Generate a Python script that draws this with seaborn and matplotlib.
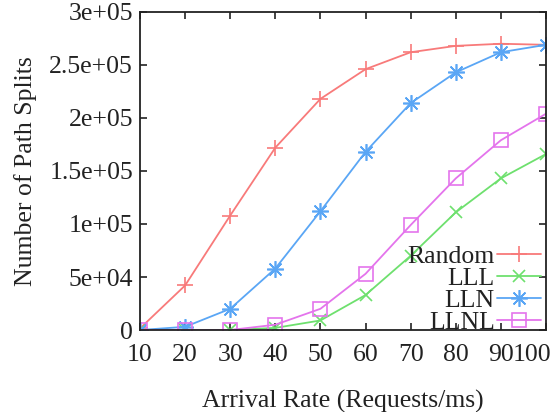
import matplotlib
matplotlib.use("Agg")
import matplotlib.pyplot as plt
import seaborn as sns
import pandas as pd
from matplotlib.transforms import ScaledTranslation

# ---- data ----
rates = [10, 20, 30, 40, 50, 60, 70, 80, 90, 100]
random_vals = [1500, 42000, 108000, 172000, 218000, 246000, 262000, 268000, 270000, 269000]
lll_vals = [0, 0, 0, 2000, 9000, 33000, 70000, 111000, 143000, 166000]
lln_vals = [0, 3000, 20000, 58000, 112000, 168000, 214000, 243000, 262000, 269000]
llnl_vals = [0, 0, 0, 5000, 20000, 53000, 99000, 143000, 179000, 204000]

series_names = ["Random", "LLL", "LLN", "LLNL"]
series_vals = [random_vals, lll_vals, lln_vals, llnl_vals]

x_ticks = [10, 20, 30, 40, 50, 60, 70, 80, 90, 100]
y_ticks = [0, 50000, 100000, 150000, 200000, 250000, 300000]
y_tick_labels = ["0", "5e+04", "1e+05", "1.5e+05", "2e+05", "2.5e+05", "3e+05"]

x_label = "Arrival Rate (Requests/ms)"
y_label = "Number of Path Splits"

# ---- style ----
sns.set_style("ticks")
plt.rcParams["font.family"] = ["Liberation Serif", "DejaVu Serif"]

FS = 18.5
colors = ["#f87a7a", "#6ee06e", "#5aa6f5", "#e474ec"]
markers = ["+", "x", (8, 2, 0), "s"]
msizes = [11, 9, 12, 10]

fig = plt.figure(figsize=(5.5, 4.12), dpi=100)
ax = fig.add_axes([0.2545, 0.199, 0.7382, 0.772])

for name, vals, c, m, ms in zip(series_names, series_vals, colors, markers, msizes):
    df = pd.DataFrame({"rate": rates, "value": vals})
    sns.lineplot(data=df, x="rate", y="value", ax=ax, color=c, marker=m,
                 markersize=ms, markeredgecolor=c,
                 markerfacecolor="none" if m == "s" else c,
                 markeredgewidth=1.2, linewidth=1.3, label=name)

ax.set_xlim(10, 100)
ax.set_ylim(0, 300000)
ax.set_xticks(x_ticks)
ax.set_xticklabels([str(t) for t in x_ticks])
ax.set_yticks(y_ticks)
ax.set_yticklabels(y_tick_labels)
ax.tick_params(direction="in", length=5, width=1.2, labelsize=FS,
               top=True, right=True, colors="#222222")
ax.tick_params(axis="x", pad=10)
ax.tick_params(axis="y", pad=5)
xl = ax.get_xticklabels()
xl[-1].set_horizontalalignment("right")
xl[-1].set_transform(xl[-1].get_transform() + ScaledTranslation(0.05, 0, fig.dpi_scale_trans))
for s in ax.spines.values():
    s.set_linewidth(1.3)
    s.set_color("#222222")

ax.set_xlabel(x_label, fontsize=FS, labelpad=17, color="#222222")
ax.set_ylabel(y_label, fontsize=FS, labelpad=9, color="#222222")

leg = ax.legend(loc="lower right", bbox_to_anchor=(0.988, -0.012),
                frameon=False, markerfirst=False,
                fontsize=FS, handlelength=1.7, labelspacing=-0.04,
                borderaxespad=0.0, handletextpad=0.1, borderpad=0.0)
for t in leg.get_texts():
    t.set_color("#222222")

fig.savefig("out.png", dpi=100)
